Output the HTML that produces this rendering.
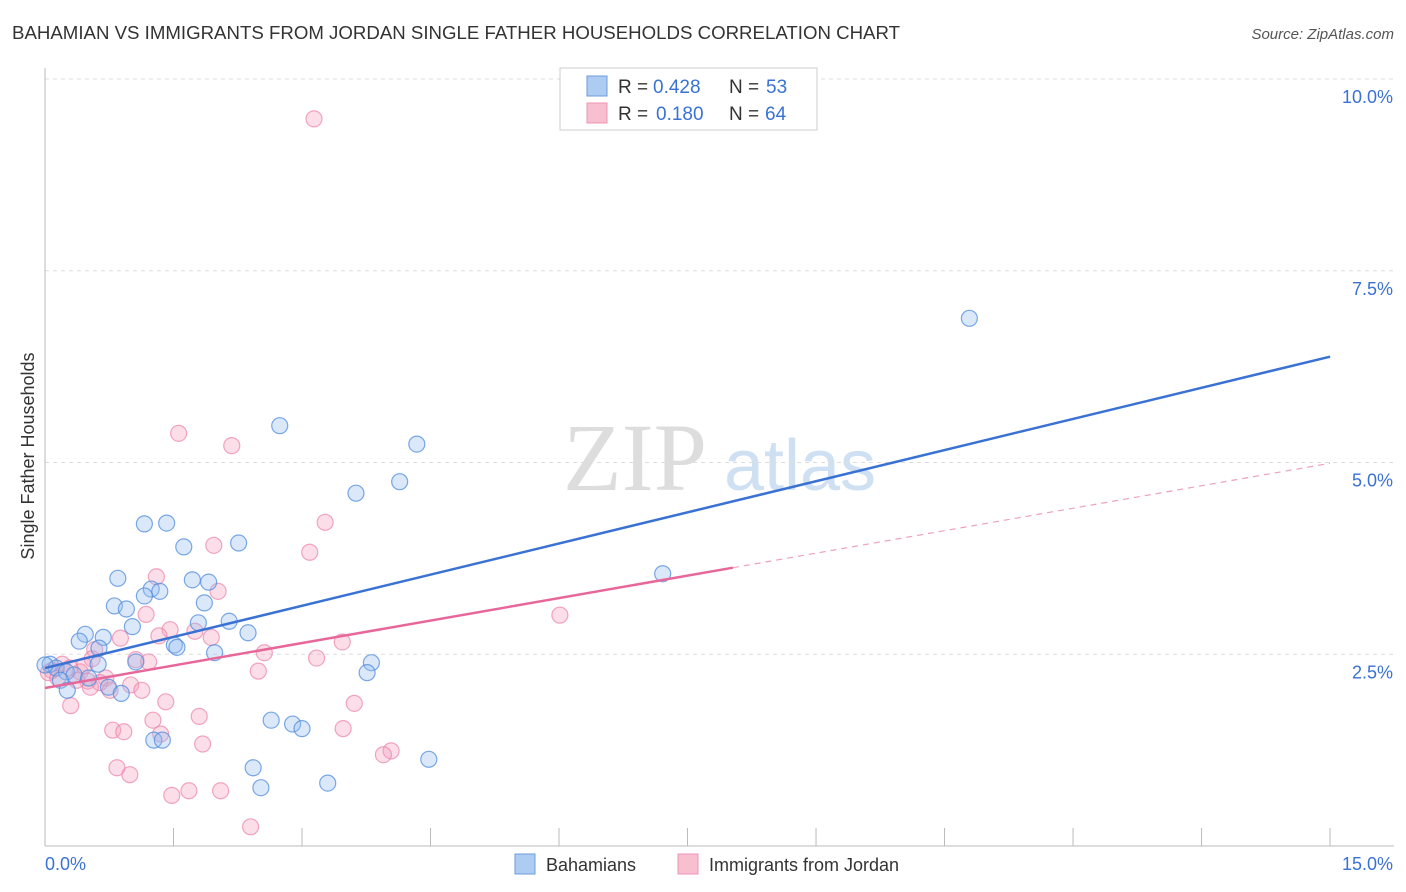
<!DOCTYPE html>
<html><head><meta charset="utf-8">
<style>
body{margin:0;background:#fff;font-family:"Liberation Sans",sans-serif;}
svg{display:block}
</style></head><body>
<svg id="chart" width="1406" height="892" viewBox="0 0 1406 892">
<text x="12" y="39" font-size="18.6" fill="#333" textLength="888" lengthAdjust="spacingAndGlyphs">BAHAMIAN VS IMMIGRANTS FROM JORDAN SINGLE FATHER HOUSEHOLDS CORRELATION CHART</text>
<text x="1394" y="39" font-size="15" fill="#555" font-style="italic" text-anchor="end">Source: ZipAtlas.com</text>
<text transform="translate(34,456) rotate(-90)" font-size="18" fill="#333" text-anchor="middle">Single Father Households</text>
<g>
<text x="635" y="490" font-size="96" fill="#ddd" font-family="Liberation Serif,serif" text-anchor="middle">ZIP</text>
<text x="800" y="490" font-size="72" fill="#cfe0f3" text-anchor="middle">atlas</text>
</g>
<g id="grid"></g><g id="axes"></g><g id="pts"></g><g id="lines"></g>
<g>
<rect x="560" y="68" width="257" height="62" fill="#fff" stroke="#ccc"/>
<rect x="587" y="76" width="20" height="20" fill="#aecbf2" stroke="#6b9de0"/>
<rect x="587" y="103" width="20" height="20" fill="#f7bfd0" stroke="#ec94b2"/>
<text x="618" y="93" font-size="19" fill="#333">R =</text>
<text x="653" y="93" font-size="19" fill="#3a72d4">0.428</text>
<text x="729" y="93" font-size="19" fill="#333">N =</text>
<text x="766" y="93" font-size="19" fill="#3a72d4">53</text>
<text x="618" y="120" font-size="19" fill="#333">R =</text>
<text x="656" y="120" font-size="19" fill="#3a72d4">0.180</text>
<text x="729" y="120" font-size="19" fill="#333">N =</text>
<text x="765" y="120" font-size="19" fill="#3a72d4">64</text>
</g>
<g>
<rect x="515" y="854" width="20" height="20" fill="#aecbf2" stroke="#6b9de0"/>
<text x="546" y="871" font-size="18" fill="#333">Bahamians</text>
<rect x="678" y="854" width="20" height="20" fill="#f7bfd0" stroke="#ec94b2"/>
<text x="709" y="871" font-size="18" fill="#333">Immigrants from Jordan</text>
</g>
</svg>
<script>
const xTicks=[0,1.5,3,4.5,6,7.5,9,10.5,12,13.5,15];
const yTicks=[2.5,5,7.5,10];
const yTickLabels=["2.5%","5.0%","7.5%","10.0%"];
const bluePx=[[969,318],[280,426],[417,444],[400,482],[356,493],[144,524],[167,523],[184,547],[239,543],[118,578],[151,589],[192,580],[209,582],[160,591],[144,596],[114,606],[126,609],[204,603],[132,627],[229,621],[198,623],[85,634],[79,641],[103,637],[248,633],[174,645],[177,647],[99,648],[215,653],[136,662],[98,664],[371,663],[367,673],[50,664],[56,668],[66,672],[74,675],[89,678],[60,680],[108,687],[67,690],[121,693],[271,720],[293,724],[302,729],[154,740],[162,740],[429,759],[253,768],[261,788],[328,783],[663,574],[45,665]];
const pinkPx=[[314,119],[179,433],[232,446],[325,522],[214,545],[310,552],[156,577],[218,591],[146,614],[560,615],[170,630],[195,631],[159,636],[211,637],[120,638],[342,642],[95,650],[264,653],[317,658],[136,660],[149,662],[92,659],[62,664],[52,670],[80,672],[106,678],[88,681],[131,685],[142,690],[258,671],[166,702],[354,703],[71,706],[199,716],[153,720],[113,730],[124,732],[343,729],[161,734],[203,744],[391,751],[383,755],[117,768],[130,775],[172,795],[189,791],[221,791],[251,827],[48,673],[58,678],[100,683],[84,666],[70,668],[90,687],[110,690],[77,680]];
const blueX=bluePx.map(p=>+((p[0]-45)/85.67).toFixed(2));
const blueY=bluePx.map(p=>+((846-p[1])/76.7).toFixed(2));
const pinkX=pinkPx.map(p=>+((p[0]-45)/85.67).toFixed(2));
const pinkY=pinkPx.map(p=>+((846-p[1])/76.7).toFixed(2));
const blueTrend=[2.32,6.38];
const pinkTrend=[2.06,4.99];
const pinkSolidEnd=8.03;
const X=v=>45+v*85.67, Y=v=>846-v*76.7;
const NS="http://www.w3.org/2000/svg";
function mk(tag,parent,attrs){const e=document.createElementNS(NS,tag);for(const k in attrs)e.setAttribute(k,attrs[k]);document.getElementById(parent).appendChild(e);return e;}
yTicks.forEach((t,i)=>{
 const l=mk('line','grid',{x1:45,x2:1394,y1:Y(t),y2:Y(t),stroke:'#ddd','stroke-dasharray':'4,4'});
 
 
 const tx=mk('text','axes',{x:1393,y:Y(t)+24,'font-size':18,fill:'#3a72d4','text-anchor':'end'});tx.textContent=yTickLabels[i];
 
 
});
const topLine=mk('line','grid',{x1:45,x2:1394,y1:79,y2:79,stroke:'#ddd','stroke-dasharray':'4,4'});
mk('line','axes',{x1:45,x2:45,y1:68,y2:846,stroke:'#bbb'});
mk('line','axes',{x1:45,x2:1394,y1:846,y2:846,stroke:'#bbb'});
xTicks.forEach(t=>{const l=mk('line','axes',{x1:X(t),x2:X(t),y1:828,y2:846,stroke:'#bbb'});
 
 });
let a=mk('text','axes',{x:45,y:870,'font-size':18,fill:'#3a72d4'});a.textContent='0.0%';
let b=mk('text','axes',{x:1393,y:870,'font-size':18,fill:'#3a72d4','text-anchor':'end'});b.textContent='15.0%';
pinkX.forEach((x,i)=>{const c=mk('circle','pts',{cx:X(x),cy:Y(pinkY[i]),r:8,fill:'rgba(244,160,190,0.35)',stroke:'rgba(236,130,170,0.7)','stroke-width':1.2});
 
 });
blueX.forEach((x,i)=>{const c=mk('circle','pts',{cx:X(x),cy:Y(blueY[i]),r:8,fill:'rgba(150,190,240,0.35)',stroke:'rgba(80,140,220,0.75)','stroke-width':1.2});
 
 });
const py=x=>pinkTrend[0]+(pinkTrend[1]-pinkTrend[0])*x/15;
let l1=mk('line','lines',{x1:X(0),y1:Y(blueTrend[0]),x2:X(15),y2:Y(blueTrend[1]),stroke:'#3a72d4','stroke-width':2.5});


let l2=mk('line','lines',{x1:X(0),y1:Y(py(0)),x2:X(pinkSolidEnd),y2:Y(py(pinkSolidEnd)),stroke:'#e8679a','stroke-width':2.5});


let l3=mk('line','lines',{x1:X(pinkSolidEnd),y1:Y(py(pinkSolidEnd)),x2:X(15),y2:Y(py(15)),stroke:'#eea0bd','stroke-width':1.2,'stroke-dasharray':'6,5'});


</script>
</body></html>
